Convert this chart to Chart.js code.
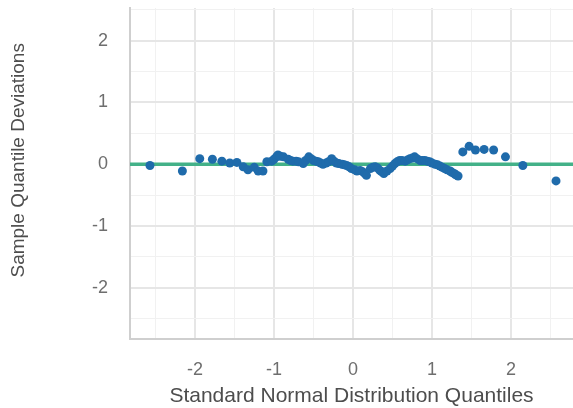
<!DOCTYPE html>
<html>
<head>
<meta charset="utf-8">
<script src="https://cdn.jsdelivr.net/npm/chart.js@4.4.1/dist/chart.umd.min.js"></script>
<style>
  html, body { margin: 0; padding: 0; background: #ffffff; overflow: hidden; }
  canvas { display: block; }
</style>
</head>
<body>
<canvas id="chart" width="573" height="408"></canvas>
<script>
// theoretical quantiles
const quantiles = [
  -2.57, -2.16, -1.94, -1.78, -1.66, -1.56, -1.47, -1.39, -1.33, -1.25,
  -1.20, -1.14, -1.09, -1.03, -1.00, -0.97, -0.95, -0.92, -0.88, -0.82,
  -0.79, -0.76, -0.72, -0.69, -0.63, -0.60, -0.56, -0.53, -0.50, -0.47,
  -0.44, -0.41, -0.38, -0.34, -0.31, -0.27, -0.24, -0.21, -0.18, -0.14,
  -0.11, -0.08, -0.05, -0.02, 0.02, 0.05, 0.09, 0.12, 0.15, 0.17,
  0.22, 0.25, 0.28, 0.31, 0.34, 0.36, 0.39, 0.43, 0.47, 0.50,
  0.53, 0.56, 0.59, 0.62, 0.66, 0.69, 0.72, 0.75, 0.78, 0.81,
  0.85, 0.88, 0.91, 0.94, 0.97, 1.00, 1.04, 1.07, 1.10, 1.13,
  1.16, 1.19, 1.23, 1.25, 1.28, 1.30, 1.33, 1.39, 1.47, 1.55,
  1.66, 1.78, 1.93, 2.15, 2.57
];
// sample quantile deviations (detrended)
const deviations = [
  -0.02, -0.11, 0.09, 0.08, 0.05, 0.02, 0.03, -0.04, -0.09, -0.05,
  -0.11, -0.11, 0.04, 0.05, 0.08, 0.12, 0.15, 0.13, 0.12, 0.08,
  0.06, 0.05, 0.05, 0.04, 0.01, 0.06, 0.12, 0.09, 0.06, 0.05,
  0.04, 0.02, 0.00, 0.02, 0.04, 0.09, 0.05, 0.02, 0.01, 0.00,
  -0.01, -0.02, -0.04, -0.07, -0.09, -0.11, -0.10, -0.12, -0.15, -0.18,
  -0.07, -0.05, -0.04, -0.06, -0.10, -0.12, -0.15, -0.11, -0.07, -0.03,
  0.01, 0.04, 0.06, 0.06, 0.05, 0.07, 0.09, 0.10, 0.12, 0.09,
  0.06, 0.06, 0.06, 0.05, 0.04, 0.02, 0.00, -0.01, -0.03, -0.05,
  -0.07, -0.09, -0.11, -0.13, -0.15, -0.17, -0.19, 0.20, 0.29, 0.23,
  0.24, 0.23, 0.12, -0.02, -0.27
];
const xTicks = [-2.5, -2, -1.5, -1, -0.5, 0, 0.5, 1, 1.5, 2, 2.5];
const yTicks = [-2.5, -2, -1.5, -1, -0.5, 0, 0.5, 1, 1.5, 2, 2.5];
const xRange = [-2.823, 2.785];
const yRange = [-2.83, 2.53];

const points = quantiles.map((q, i) => ({x: q, y: deviations[i]}));
const refLine = [{x: xRange[0], y: 0}, {x: xRange[1], y: 0}];

const FONT = "'Liberation Sans', Arial, Helvetica, sans-serif";

function isMajor(v) {
  return Math.abs(v - Math.round(v)) < 1e-6;
}

function gridColor(ctx) {
  return ctx.tick && isMajor(ctx.tick.value) ? "#e6e6e6" : "#f1f1f1";
}

function gridWidth(ctx) {
  return ctx.tick && isMajor(ctx.tick.value) ? 2 : 1;
}

new Chart(document.getElementById("chart"), {
  type: "scatter",
  data: {
    datasets: [
      {
        label: "deviations",
        data: points,
        backgroundColor: "#1f6bab",
        borderColor: "#1f6bab",
        pointRadius: 4.5,
        borderWidth: 0,
        order: 0,
      },
      {
        type: "line",
        label: "reference",
        data: refLine,
        borderColor: "#43b188",
        borderWidth: 3.5,
        pointRadius: 0,
        fill: false,
        order: 1,
      },
    ],
  },
  options: {
    responsive: false,
    animation: false,
    layout: {autoPadding: false, padding: {top: 8, left: 0, right: 0, bottom: 0}},
    plugins: {
      legend: {display: false},
      tooltip: {enabled: false},
    },
    scales: {
      x: {
        type: "linear",
        min: xRange[0],
        max: xRange[1],
        afterBuildTicks: (scale) => {
          scale.ticks = xTicks.map((v) => ({value: v}));
        },
        afterFit: (scale) => {
          scale.height = 69;
          scale.paddingLeft = 0;
          scale.paddingRight = 0;
        },
        grid: {color: gridColor, lineWidth: gridWidth, drawTicks: false},
        border: {display: true, color: "#cfcfcf", width: 2},
        ticks: {
          padding: 20,
          color: "#6e6e6e",
          font: {family: FONT, size: 18},
          callback: (v) => (isMajor(v) ? String(Math.round(v)) : ""),
        },
        title: {
          display: true,
          text: "Standard Normal Distribution Quantiles",
          color: "#4d4d4d",
          font: {family: FONT, size: 21, lineHeight: 1},
          padding: {top: 0, bottom: 1},
        },
      },
      y: {
        type: "linear",
        min: yRange[0],
        max: yRange[1],
        afterBuildTicks: (scale) => {
          scale.ticks = yTicks.map((v) => ({value: v}));
        },
        afterFit: (scale) => {
          scale.width = 130;
          scale.paddingTop = 0;
          scale.paddingBottom = 0;
        },
        grid: {color: gridColor, lineWidth: gridWidth, drawTicks: false},
        border: {display: true, color: "#cfcfcf", width: 2},
        ticks: {
          padding: 22,
          color: "#6e6e6e",
          font: {family: FONT, size: 18},
          callback: (v) => (isMajor(v) ? String(Math.round(v)) : ""),
        },
        title: {
          display: true,
          // leading spaces nudge the rotated title up like the original
          text: "     Sample Quantile Deviations",
          color: "#4d4d4d",
          font: {family: FONT, size: 19, lineHeight: 1},
          padding: {top: 9, bottom: 0},
        },
      },
    },
  },
});
</script>
</body>
</html>
